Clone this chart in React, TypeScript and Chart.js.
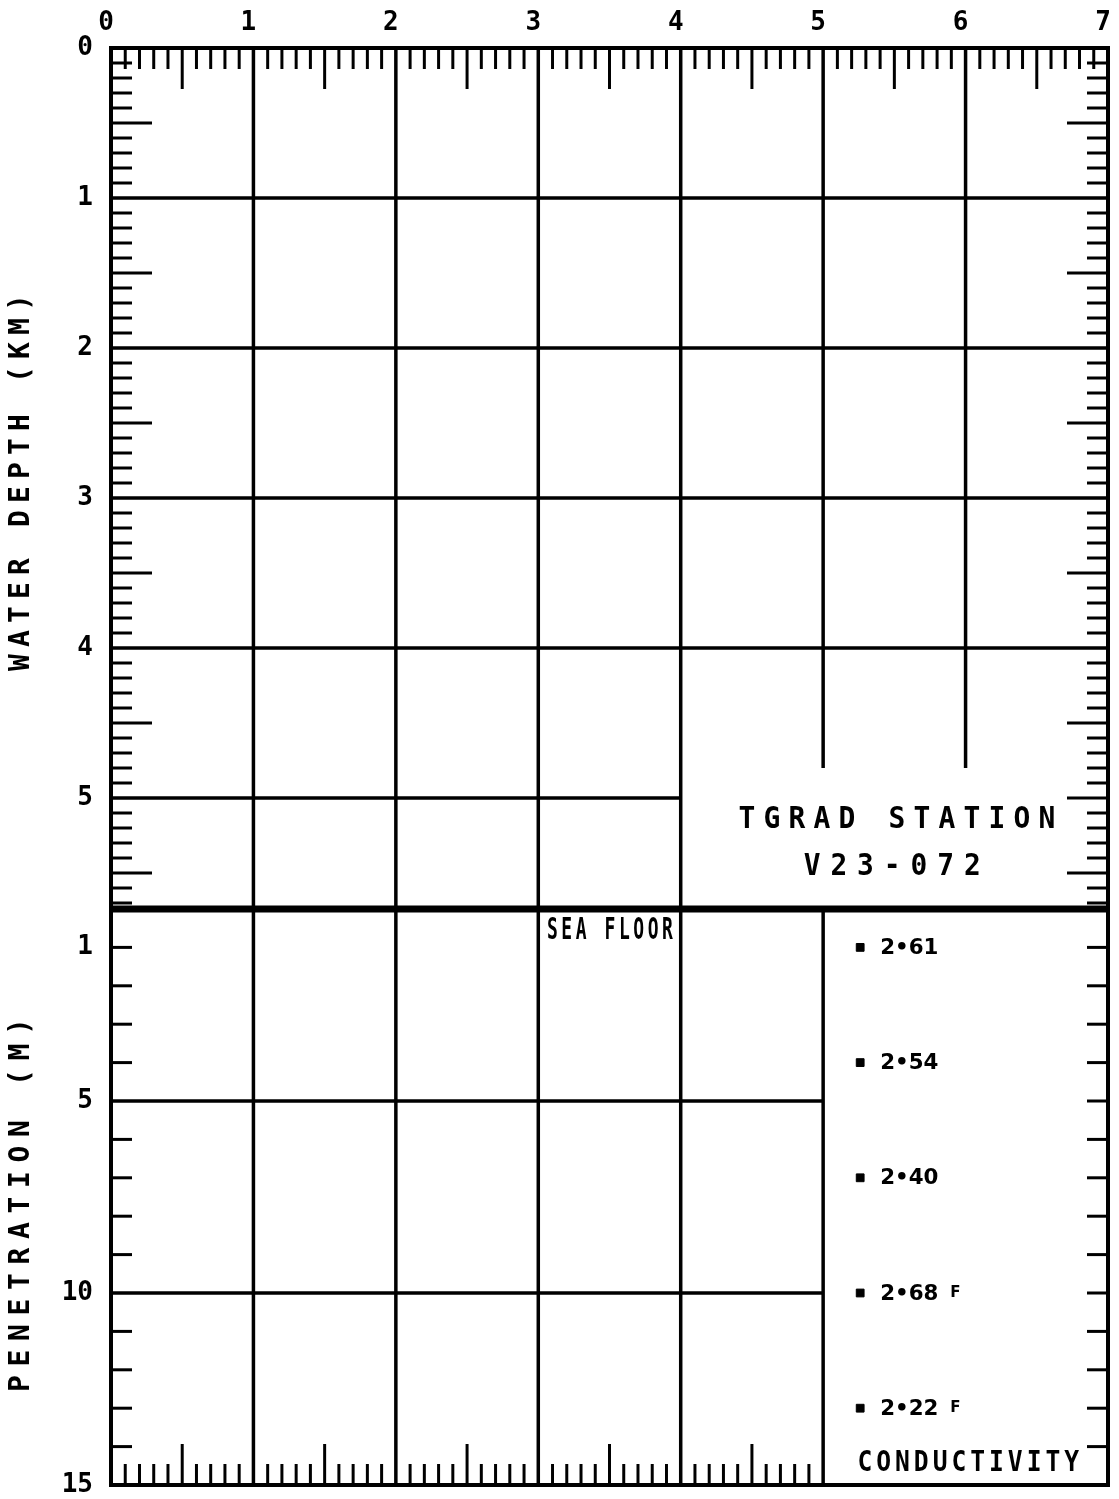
import React, { useEffect, useRef } from "react";
import { Chart, registerables } from "chart.js";

Chart.register(...registerables);

// ---------------- data ----------------
const X_TICKS = [0, 1, 2, 3, 4, 5, 6, 7];
const DEPTH_TICKS = [0, 1, 2, 3, 4, 5];
const PEN_TICKS = [1, 5, 10, 15];
const X_MAX = 7;
const SEA_FLOOR_KM = 5.74;
const PEN_MAX = 15;

const COND_PENETRATION = [1, 4, 7, 10, 13];
const COND_VALUES = ["2.61", "2.54", "2.40", "2.68", "2.22"];
const COND_FLAGS = ["", "", "", "F", "F"];
const COND_COLUMN_X = 5.26;

// grid segments: [level, from, to]
const DEPTH_ROWS = [[1, 0, 7], [2, 0, 7], [3, 0, 7], [4, 0, 7], [5, 0, 4]];
const DEPTH_COLS = [
  [1, 0, SEA_FLOOR_KM], [2, 0, SEA_FLOOR_KM], [3, 0, SEA_FLOOR_KM],
  [4, 0, SEA_FLOOR_KM], [5, 0, 4.8], [6, 0, 4.8],
];
const PEN_ROWS = [[5, 0, 5], [10, 0, 5]];
const PEN_COLS = [[1, 0, 15], [2, 0, 15], [3, 0, 15], [4, 0, 15], [5, 0, 15]];

const TITLE_DEPTH = "WATER DEPTH (KM)";
const TITLE_PEN = "PENETRATION (M)";
const STATION_LINE1 = "TGRAD STATION";
const STATION_LINE2 = "V23-072";
const SEA_FLOOR_LABEL = "SEA FLOOR";
const COND_TITLE = "CONDUCTIVITY";

const MONO = "'DejaVu Sans Mono', monospace";

const drawSpaced = (
  ctx: CanvasRenderingContext2D, text: string, cx: number, cy: number,
  pitch: number, font: string, sx = 1, rot = 0
) => {
  ctx.save();
  ctx.translate(cx, cy);
  ctx.rotate(rot);
  ctx.font = font;
  ctx.fillStyle = "#000";
  ctx.textAlign = "center";
  ctx.textBaseline = "middle";
  const n = text.length;
  for (let i = 0; i < n; i++) {
    if (text[i] === " ") continue;
    ctx.save();
    ctx.translate((i - (n - 1) / 2) * pitch, 0);
    ctx.scale(sx, 1);
    ctx.fillText(text[i], 0, 0);
    ctx.restore();
  }
  ctx.restore();
};

const framePlugin = {
  id: "tgradFrame",
  beforeDatasetsDraw(chart: any) {
    const { ctx, chartArea: a, scales } = chart;
    const X = (v: number) => scales.x.getPixelForValue(v);
    const YD = (v: number) => scales.yDepth.getPixelForValue(v);
    const YP = (v: number) => scales.yPen.getPixelForValue(v);
    ctx.save();
    ctx.strokeStyle = "#000";
    ctx.lineCap = "butt";
    const seg = (x1: number, y1: number, x2: number, y2: number, w: number) => {
      ctx.lineWidth = w;
      ctx.beginPath();
      ctx.moveTo(x1, y1);
      ctx.lineTo(x2, y2);
      ctx.stroke();
    };
    const GW = 3.5;
    DEPTH_ROWS.forEach(([d, x0, x1]) => seg(X(x0), YD(d), X(x1), YD(d), GW));
    DEPTH_COLS.forEach(([xv, d0, d1]) => seg(X(xv), YD(d0), X(xv), YD(d1), GW));
    PEN_ROWS.forEach(([m, x0, x1]) => seg(X(x0), YP(m), X(x1), YP(m), GW));
    PEN_COLS.forEach(([xv, m0, m1]) => seg(X(xv), YP(m0), X(xv), YP(m1), GW));

    const TW = 3;
    const SHORT = 21;
    const LONG = 41;
    // top edge minor ticks
    for (let i = 1; i < X_MAX * 10; i++) {
      if (i % 10 === 0) continue;
      seg(X(i / 10), a.top, X(i / 10), a.top + (i % 5 === 0 ? LONG : SHORT), TW);
    }
    // bottom edge minor ticks (0..5)
    for (let i = 1; i < 50; i++) {
      if (i % 10 === 0) continue;
      seg(X(i / 10), a.bottom, X(i / 10), a.bottom - (i % 5 === 0 ? LONG : SHORT), TW);
    }
    // depth edges
    for (let i = 1; i / 10 < SEA_FLOOR_KM - 0.02; i++) {
      const y = YD(i / 10);
      const len = i % 5 === 0 ? LONG : SHORT;
      if (i % 10 !== 0) seg(a.left, y, a.left + len, y, TW);
      if (i % 10 !== 0 || i === 50) seg(a.right, y, a.right - len, y, TW);
    }
    // penetration edges
    for (let m = 1; m < PEN_MAX; m++) {
      const y = YP(m);
      if (m !== 5 && m !== 10) seg(a.left, y, a.left + SHORT, y, TW);
      seg(a.right, y, a.right - SHORT, y, TW);
    }
    // frame
    ctx.lineWidth = 4;
    ctx.strokeRect(a.left, a.top, a.right - a.left, a.bottom - a.top);
    // sea floor
    seg(a.left, YP(0), a.right, YP(0), 7);
    ctx.restore();
  },
  afterDatasetsDraw(chart: any) {
    const { ctx, scales } = chart;
    const X = (v: number) => scales.x.getPixelForValue(v);
    const YD = (v: number) => scales.yDepth.getPixelForValue(v);
    const YP = (v: number) => scales.yPen.getPixelForValue(v);

    // axis titles
    drawSpaced(ctx, TITLE_DEPTH, 22, (YD(0) + YD(SEA_FLOOR_KM)) / 2 + 4, 24,
      `bold 28px ${MONO}`, 1, -Math.PI / 2);
    drawSpaced(ctx, TITLE_PEN, 22, (YP(0) + YP(PEN_MAX)) / 2 + 8, 25.5,
      `bold 28px ${MONO}`, 1, -Math.PI / 2);

    // station label
    drawSpaced(ctx, STATION_LINE1, X(5.517), YD(5.147), 25, `bold 31px ${MONO}`, 0.9);
    drawSpaced(ctx, STATION_LINE2, X(5.485), YD(5.463), 26.7, `bold 31px ${MONO}`, 0.9);

    // sea floor label
    drawSpaced(ctx, SEA_FLOOR_LABEL, X(3.503), YP(0.585), 14.4, `bold 30px ${MONO}`, 0.6);

    // conductivity title
    drawSpaced(ctx, COND_TITLE, X(6.019), YP(14.45), 18.8, `bold 29px ${MONO}`, 0.85);

    // conductivity values
    const meta = chart.getDatasetMeta(0);
    meta.data.forEach((pt: any, i: number) => {
      ctx.save();
      ctx.fillStyle = "#000";
      ctx.textBaseline = "middle";
      ctx.textAlign = "left";
      ctx.font = `bold 23px 'DejaVu Sans', sans-serif`;
      ctx.save();
      ctx.translate(pt.x + 20, pt.y + 1);
      ctx.scale(0.93, 0.95);
      ctx.fillText(COND_VALUES[i].replace(".", "\u2022"), 0, 0);
      ctx.restore();
      if (COND_FLAGS[i]) {
        ctx.font = `bold 15px 'DejaVu Sans', sans-serif`;
        ctx.fillText(COND_FLAGS[i], pt.x + 90, pt.y);
      }
      ctx.restore();
    });
  },
};

const tickFont = { family: MONO, weight: "bold" as const, size: 26 };

export default function App() {
  const ref = useRef<HTMLCanvasElement | null>(null);
  useEffect(() => {
    if (!ref.current) return;
    const chart = new Chart(ref.current, {
      type: "scatter",
      data: {
        datasets: [
          {
            data: COND_PENETRATION.map((m) => ({ x: COND_COLUMN_X, y: m })),
            xAxisID: "x",
            yAxisID: "yPen",
            pointStyle: "rect",
            pointRadius: 5.5,
            backgroundColor: "#000",
            borderColor: "#000",
            borderWidth: 1,
            showLine: false,
          },
        ],
      },
      options: {
        responsive: false,
        animation: false,
        events: [],
        layout: { padding: { left: 0, top: 0, right: 11, bottom: 14 } },
        plugins: { legend: { display: false }, tooltip: { enabled: false } },
        scales: {
          x: {
            type: "linear",
            position: "top",
            min: 0,
            max: X_MAX,
            afterBuildTicks: (s: any) => { s.ticks = X_TICKS.map((v) => ({ value: v })); },
            afterFit: (s: any) => { s.height = 48; s.paddingLeft = 0; s.paddingRight = 0; },
            grid: { display: false, drawTicks: false },
            border: { display: false },
            ticks: { font: tickFont, color: "#000", padding: 9, labelOffset: -5, autoSkip: false, maxRotation: 0 },
          },
          yPen: {
            type: "linear",
            position: "left",
            stack: "panels",
            stackWeight: 576,
            min: 0,
            max: PEN_MAX,
            reverse: true,
            afterBuildTicks: (s: any) => { s.ticks = PEN_TICKS.map((v) => ({ value: v })); },
            afterFit: (s: any) => { s.width = 111; s.paddingTop = 0; s.paddingBottom = 0; },
            grid: { display: false, drawTicks: false },
            border: { display: false },
            ticks: { font: tickFont, color: "#000", padding: 18, autoSkip: false },
          },
          yDepth: {
            type: "linear",
            position: "left",
            stack: "panels",
            stackWeight: 861,
            min: 0,
            max: SEA_FLOOR_KM,
            reverse: true,
            afterBuildTicks: (s: any) => { s.ticks = DEPTH_TICKS.map((v) => ({ value: v })); },
            afterFit: (s: any) => { s.width = 111; s.paddingTop = 0; s.paddingBottom = 0; },
            grid: { display: false, drawTicks: false },
            border: { display: false },
            ticks: { font: tickFont, color: "#000", padding: 18, autoSkip: false },
          },
        },
      } as any,
      plugins: [framePlugin],
    });
    return () => chart.destroy();
  }, []);
  return (
    <div style={{ position: "absolute", left: 0, top: 0, width: 1119, height: 1499, background: "#fff" }}>
      <canvas ref={ref} width={1119} height={1499} style={{ display: "block" }} />
    </div>
  );
}
